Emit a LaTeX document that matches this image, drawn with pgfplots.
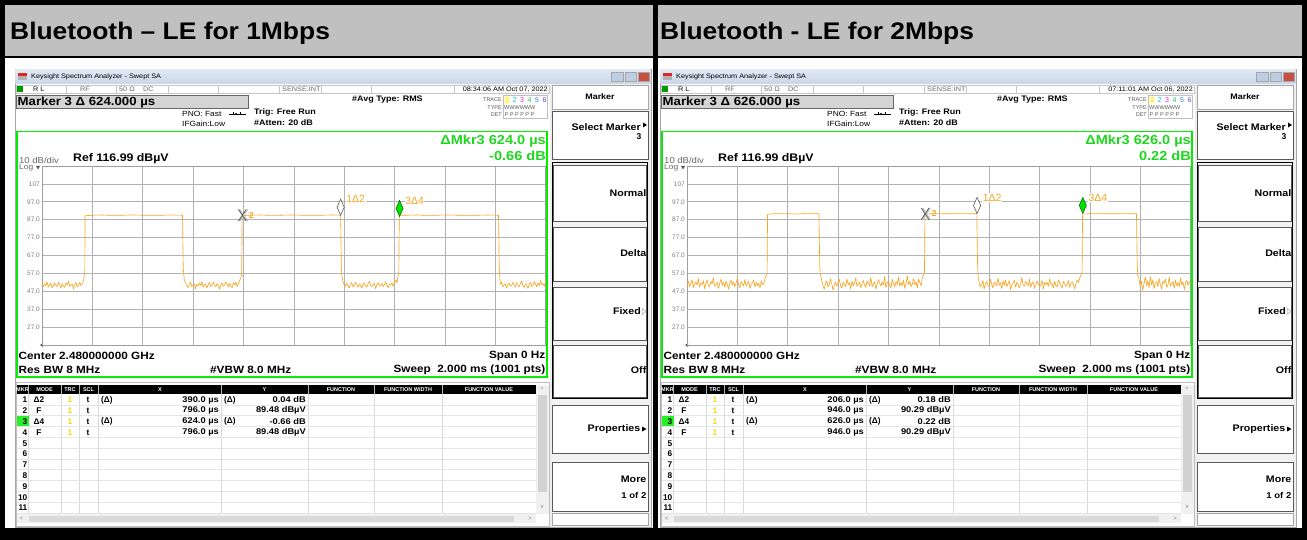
\documentclass[border=0pt]{standalone}
\usepackage{fontspec}
\setmainfont{Liberation Sans}
\usepackage{graphicx}
\usepackage{pgfplots}
\pgfplotsset{compat=1.18}
\usepackage{pgfplotstable}

\definecolor{hdr}{RGB}{192,192,192}
\definecolor{grn}{RGB}{0,240,0}
\definecolor{grntxt}{RGB}{30,215,30}
\definecolor{org}{RGB}{250,165,35}
\definecolor{grd}{RGB}{178,178,178}
\definecolor{tbartop}{RGB}{226,234,244}
\definecolor{tbarbot}{RGB}{200,214,232}
\definecolor{panelbg}{RGB}{238,238,238}
\definecolor{mkgray}{RGB}{212,212,212}
\definecolor{btn}{RGB}{190,205,225}
\definecolor{closered}{RGB}{200,80,65}
\definecolor{hl}{RGB}{40,240,40}
\definecolor{ylw}{RGB}{250,215,0}

\newcommand\fs[1]{\fontsize{#1}{#1}\selectfont}
\newcommand\hs[1]{\scalebox{1.12}[1]{#1}}

\pgfplotstableread{
x y
0 50.8
5 49.6
10 51.2
15 50.1
20 52.3
25 49.4
30 50.6
35 51.5
40 48.9
45 50.2
50 51.8
55 50.4
60 49.7
65 52.1
70 50.9
75 48.6
80 51.3
85 50.0
90 49.2
95 51.7
100 50.5
105 52.6
110 49.8
115 50.3
120 51.1
125 48.2
130 50.7
135 51.9
140 49.5
145 50.6
150 52.0
155 50.2
160 51.4
165 52.8
168 56.3
170 56.8
171 89.2
200 89.5
240 89.6
280 89.4
320 89.5
360 89.6
400 89.5
440 89.4
480 89.5
520 89.6
558 89.5
561 60.0
563 56.2
565 53.5
570 51.6
575 50.2
580 49.1
585 50.8
590 52.2
595 49.7
600 50.4
605 51.3
610 48.4
615 50.9
620 49.9
625 51.6
630 50.3
635 52.4
640 49.2
645 50.7
650 51.0
655 48.8
660 50.5
665 51.9
670 49.6
675 50.2
680 52.1
685 50.8
690 49.4
695 51.2
700 50.0
705 48.1
710 50.6
715 51.7
720 49.9
725 50.4
730 52.3
735 50.9
740 49.3
745 51.4
750 50.1
755 49.0
760 51.8
765 50.6
770 52.0
775 49.7
780 51.1
785 53.0
790 54.6
793 56.2
795 89.3
830 89.5
870 89.6
910 89.4
950 89.5
990 89.6
1030 89.5
1070 89.4
1110 89.5
1150 89.6
1186 89.5
1189 60.0
1191 55.5
1195 52.4
1200 50.6
1205 49.8
1210 51.5
1215 50.1
1220 48.9
1225 50.7
1230 51.9
1235 49.5
1240 50.3
1245 52.0
1250 50.8
1255 49.2
1260 51.1
1265 50.4
1270 48.7
1275 50.9
1280 51.6
1285 50.0
1290 49.4
1295 51.3
1300 52.5
1305 50.2
1310 49.7
1315 50.8
1320 51.4
1325 48.5
1330 50.6
1335 51.8
1340 49.9
1345 50.3
1350 51.2
1355 49.6
1360 50.7
1365 52.2
1370 50.4
1375 49.1
1380 51.0
1385 50.5
1390 51.7
1395 49.8
1400 52.1
1405 53.2
1410 51.8
1414 55.8
1417 56.5
1419 89.4
1450 89.5
1490 89.6
1530 89.4
1570 89.5
1610 89.6
1650 89.5
1690 89.4
1730 89.5
1770 89.6
1813 89.5
1816 60.0
1818 55.2
1820 50.9
1825 52.3
1830 49.6
1835 50.4
1840 51.2
1845 48.8
1850 50.7
1855 51.5
1860 49.9
1865 50.2
1870 52.0
1875 50.6
1880 49.3
1885 51.8
1890 50.1
1895 49.5
1900 51.4
1905 52.7
1910 50.0
1915 49.2
1920 51.0
1925 50.5
1930 48.6
1935 50.8
1940 51.9
1945 49.7
1950 50.3
1955 52.4
1960 50.9
1965 49.4
1970 51.6
1975 50.2
1980 53.1
1985 50.7
1990 51.3
1995 49.8
2000 52.6
}\traceA

\pgfplotstableread{
x y
0 50.2
5 52.8
10 49.6
15 51.4
20 53.5
25 48.9
30 51.0
35 52.2
40 50.5
45 54.1
50 49.3
55 51.7
60 50.8
65 52.9
70 48.4
75 51.2
80 53.3
85 50.1
90 49.7
95 52.5
100 51.1
105 54.6
110 49.9
115 50.6
120 52.0
125 48.7
130 51.5
135 53.8
140 50.3
145 51.9
150 49.2
155 52.7
160 50.9
165 48.1
170 51.6
175 53.1
180 50.4
185 52.3
190 49.5
195 51.8
200 54.0
205 50.7
210 49.0
215 52.4
220 51.3
225 50.0
230 53.6
235 49.8
240 51.1
245 52.6
250 48.6
255 50.9
260 51.7
265 53.4
270 49.4
275 52.1
280 50.2
285 51.5
290 48.9
295 52.9
300 50.6
305 51.3
310 54.2
315 56.1
318 57.0
320 90.1
360 90.4
400 90.3
440 90.2
480 90.4
524 90.3
527 62.0
529 56.5
535 53.2
540 50.4
545 48.1
550 51.6
555 52.8
560 49.3
565 50.9
570 54.0
575 51.2
580 47.6
585 50.5
590 52.3
595 49.8
600 51.7
605 53.6
610 50.2
615 48.8
620 52.1
625 51.0
630 49.5
635 53.9
640 50.7
645 51.8
650 48.4
655 52.6
660 50.1
665 51.4
670 54.4
675 49.7
680 50.8
685 52.0
690 48.9
695 51.3
700 53.1
705 50.6
710 49.2
715 52.8
720 51.5
725 50.0
730 54.7
735 49.6
740 51.2
745 52.4
750 48.3
755 50.9
760 53.5
765 51.7
770 49.9
775 52.2
780 50.4
785 55.3
790 49.1
795 51.6
800 52.9
805 50.3
810 48.7
815 53.8
820 51.1
825 49.4
830 52.5
835 50.8
840 54.9
845 49.8
850 51.9
855 50.2
860 53.3
865 48.6
870 51.4
875 55.6
880 50.7
885 52.7
890 49.5
895 51.0
900 54.1
905 50.5
910 52.3
915 49.0
920 53.7
925 51.8
930 50.1
935 54.8
940 56.4
943 57.5
945 90.2
990 90.4
1040 90.3
1090 90.4
1151 90.3
1154 62.0
1156 55.8
1160 51.9
1165 49.4
1170 50.8
1175 53.0
1180 48.2
1185 51.5
1190 52.4
1195 50.1
1200 49.6
1205 53.7
1210 50.9
1215 48.8
1220 52.2
1225 51.3
1230 49.9
1235 54.3
1240 50.4
1245 51.8
1250 48.5
1255 52.7
1260 50.2
1265 53.4
1270 49.7
1275 51.1
1280 52.9
1285 47.9
1290 50.6
1295 51.7
1300 53.2
1305 49.3
1310 52.0
1315 50.7
1320 48.9
1325 51.4
1330 54.6
1335 50.3
1340 49.8
1345 52.5
1350 51.0
1355 50.1
1360 53.8
1365 49.2
1370 51.6
1375 52.3
1380 48.6
1385 50.9
1390 52.8
1395 51.2
1400 49.5
1405 50.4
1410 53.1
1415 48.3
1420 51.9
1425 50.6
1430 52.1
1435 49.7
1440 54.0
1445 50.8
1450 51.3
1455 48.8
1460 52.6
1465 50.0
1470 49.4
1475 53.5
1480 51.7
1485 50.2
1490 48.7
1495 52.4
1500 51.1
1505 49.9
1510 50.5
1515 53.0
1520 49.1
1525 51.8
1530 52.2
1535 50.3
1540 48.4
1545 51.5
1550 53.3
1555 52.0
1560 54.5
1565 56.3
1569 57.5
1571 90.2
1620 90.4
1680 90.3
1740 90.4
1785 90.3
1788 62.0
1790 56.0
1795 53.9
1800 49.8
1805 52.6
1810 47.4
1815 51.3
1820 54.8
1825 50.2
1830 52.9
1835 49.1
1840 55.2
1845 50.6
1850 53.4
1855 48.5
1860 51.7
1865 52.3
1870 49.6
1875 54.1
1880 50.9
1885 48.2
1890 52.8
1895 51.5
1900 53.7
1905 49.3
1910 50.4
1915 55.0
1920 49.9
1925 51.2
1930 52.5
1935 48.7
1940 53.3
1945 50.1
1950 51.9
1955 49.5
1960 54.4
1965 50.8
1970 52.1
1975 47.8
1980 51.6
1985 53.0
1990 50.3
1995 52.4
2000 51.1
}\traceB

% one analyzer screenshot (static parts), units = pixels
\newcommand\panel[8]{%
\begin{scope}[x=1pt,y=-1pt,xshift=#1pt]
% window
\fill[panelbg] (15,69) rectangle (651,527);
\draw[gray!70,line width=0.5pt] (15,69) rectangle (651,527);
\shade[top color=tbartop,bottom color=tbarbot] (15.3,69.3) rectangle (650.7,84);
\fill[red!70!gray] (18,73) rectangle (27,76.5);
\fill[gray!60] (18,76.5) rectangle (27,80);
\node[anchor=west,font=\fs{6.5},inner sep=0pt] at (31,77) {\hs{Keysight Spectrum Analyzer - Swept SA}};
\filldraw[fill=btn,draw=gray!70] (611,72) rectangle (623,81);
\filldraw[fill=btn,draw=gray!70] (625,72) rectangle (636,81);
\filldraw[fill=closered,draw=gray!70] (638,72) rectangle (649,81);
% instrument area
\fill[white] (16,84.5) rectangle (550,527);
% status row
\draw[gray!45,line width=0.4pt] (16,85) rectangle (549,93.5);
\foreach \c in {66,116,168,218,279,321,371,454} {\draw[gray!45,line width=0.4pt] (\c,85) -- (\c,93.5);}
\fill[green!60!black] (17,86) rectangle (23,92.5);
\node[anchor=west,font=\fs{6.5},inner sep=0pt] at (33,89.3) {\hs{R L}};
\node[anchor=west,font=\fs{6.5},inner sep=0pt,text=gray!80!black] at (80,89.3) {\hs{RF}};
\node[anchor=west,font=\fs{6.5},inner sep=0pt,text=gray!80!black] at (119,89.3) {\hs{50 Ω}};
\node[anchor=west,font=\fs{6.5},inner sep=0pt,text=gray!80!black] at (143,89.3) {\hs{DC}};
\node[anchor=west,font=\fs{6.5},inner sep=0pt,text=gray!80!black] at (282,89.3) {\hs{SENSE:INT}};
\node[anchor=east,font=\fs{6.5},inner sep=0pt] at (548,89.3) {\hs{#2}};
% marker box
\filldraw[fill=mkgray,draw=gray!80!black,line width=0.5pt] (16,95.5) rectangle (248,108.5);
\node[anchor=west,font=\fs{11.8}\bfseries,inner sep=0pt] at (17.5,102) {\hs{Marker 3 Δ #3.000 µs}};
\node[anchor=west,font=\fs{8}\bfseries,inner sep=0pt] at (352,100) {\hs{\#Avg Type: RMS}};
\node[anchor=west,font=\fs{7.5},inner sep=0pt] at (182,114) {\hs{PNO: Fast}};
\draw[line width=0.5pt] (229,114) -- (246,114);
\fill (236,114) circle (1.2);
\draw[line width=0.5pt] (233,112.5) -- (233,115.5) (240,112.5) -- (240,115.5);
\node[anchor=west,font=\fs{7.5},inner sep=0pt] at (182,124) {\hs{IFGain:Low}};
\node[anchor=west,font=\fs{8}\bfseries,inner sep=0pt] at (254,112) {\hs{Trig: Free Run}};
\node[anchor=west,font=\fs{8}\bfseries,inner sep=0pt] at (254,122.5) {\hs{\#Atten: 20 dB}};
% trace table
\node[anchor=east,font=\fs{5.5},inner sep=0pt,text=gray!70!black] at (502,100) {TRACE};
\node[anchor=east,font=\fs{5.5},inner sep=0pt,text=gray!70!black] at (502,107.5) {TYPE};
\node[anchor=east,font=\fs{5.5},inner sep=0pt,text=gray!70!black] at (502,115) {DET};
\draw[gray!50,line width=0.4pt] (503.5,95.5) rectangle (547.5,118.5);
\fill[yellow!25] (504,96) rectangle (510,104);
\node[font=\fs{7},inner sep=0pt,text=ylw] at (507,100) {1};
\node[font=\fs{7},inner sep=0pt,text={rgb,255:red,0;green,190;blue,225}] at (514.5,100) {2};
\node[font=\fs{7},inner sep=0pt,text={rgb,255:red,230;green,40;blue,200}] at (522,100) {3};
\node[font=\fs{7},inner sep=0pt,text={rgb,255:red,40;green,190;blue,90}] at (529.5,100) {4};
\node[font=\fs{7},inner sep=0pt,text={rgb,255:red,40;green,120;blue,230}] at (537,100) {5};
\node[font=\fs{7},inner sep=0pt,text={rgb,255:red,120;green,60;blue,230}] at (544.5,100) {6};
\node[anchor=west,font=\fs{5.5},inner sep=0pt,text=gray!70!black] at (504,107.5) {WWWWWW};
\node[anchor=west,font=\fs{5.5},inner sep=0pt,text=gray!70!black] at (504.5,115) {P P P P P P};
% graph frame
\draw[grn,line width=1.8pt] (17,131.5) rectangle (547,377);
\node[anchor=east,font=\fs{13}\bfseries,inner sep=0pt,text=grntxt] at (546,141) {\hs{ΔMkr3 #3.0 µs}};
\node[anchor=east,font=\fs{13}\bfseries,inner sep=0pt,text=grntxt] at (546,156) {\hs{#4 dB}};
\node[anchor=west,font=\fs{8.5},inner sep=0pt,text=gray!80!black] at (19,160) {\hs{10 dB/div}};
\node[anchor=west,font=\fs{11}\bfseries,inner sep=0pt] at (73,159) {\hs{Ref 116.99 dBµV}};
\node[anchor=west,font=\fs{7.5},inner sep=0pt,text=gray!80!black] at (19,168) {\hs{Log}};
\fill[gray!70!black] (36,166) -- (40,166) -- (38,169.5) -- cycle;
\fill[gray!70!black] (40,345) -- (43,343) -- (43,347) -- cycle;
\node[anchor=west,font=\fs{10.5}\bfseries,inner sep=0pt] at (18.5,355.5) {\hs{Center 2.480000000 GHz}};
\node[anchor=east,font=\fs{10.5}\bfseries,inner sep=0pt] at (545.5,355.5) {\hs{Span 0 Hz}};
\node[anchor=west,font=\fs{10.5}\bfseries,inner sep=0pt] at (18.5,369.5) {\hs{Res BW 8 MHz}};
\node[anchor=west,font=\fs{10.5}\bfseries,inner sep=0pt] at (210,369.5) {\hs{\#VBW 8.0 MHz}};
\node[anchor=east,font=\fs{10.5}\bfseries,inner sep=0pt] at (545.5,369.5) {\hs{Sweep\ \ 2.000 ms (1001 pts)}};
% marker table
\draw[gray!50,line width=0.5pt] (16,382) rectangle (549,526);
\fill[black] (17,385) rectangle (536,394);
\foreach \c in {28,61,79,98,221,308,374,442} {\draw[gray!30,line width=0.4pt] (\c,394) -- (\c,513);
  \draw[gray!60,line width=0.4pt] (\c,385) -- (\c,394);}
\foreach \i in {1,...,11} {\draw[gray!20,line width=0.4pt] (17,{394+\i*10.8}) -- (536,{394+\i*10.8});}
\fill[hl] (17,416) rectangle (28.5,426.2);
\foreach \l/\p in {MKR/22.5,MODE/44.5,TRC/70,SCL/88.5,X/160,Y/264.5,FUNCTION/341,FUNCTION WIDTH/408,FUNCTION VALUE/489} {%
  \node[font=\fs{5.5}\bfseries,text=white,inner sep=0pt] at (\p,389.7) {\l};}
\foreach \i in {1,...,11} {\node[anchor=east,font=\fs{8.3}\bfseries,inner sep=0pt] at (27.5,{400+(\i-1)*10.8}) {\i};}
\foreach \i/\m in {1/Δ2,2/F,3/Δ4,4/F} {%
  \node[font=\fs{8.3}\bfseries,inner sep=0pt] at (39,{400+(\i-1)*10.8}) {\m};
  \node[font=\fs{8.3}\bfseries,inner sep=0pt,text=ylw] at (70,{400+(\i-1)*10.8}) {1};
  \node[font=\fs{8.3}\bfseries,inner sep=0pt] at (88,{400+(\i-1)*10.8}) {t};}
\node[anchor=west,font=\fs{8.3}\bfseries,inner sep=0pt] at (101,400) {(Δ)};
\node[anchor=west,font=\fs{8.3}\bfseries,inner sep=0pt] at (101,421.6) {(Δ)};
\node[anchor=west,font=\fs{8.3}\bfseries,inner sep=0pt] at (224,400) {(Δ)};
\node[anchor=west,font=\fs{8.3}\bfseries,inner sep=0pt] at (224,421.6) {(Δ)};
\node[anchor=east,font=\fs{8.3}\bfseries,inner sep=0pt] at (219,400) {\hs{#5 µs}};
\node[anchor=east,font=\fs{8.3}\bfseries,inner sep=0pt] at (219,410.8) {\hs{#7 µs}};
\node[anchor=east,font=\fs{8.3}\bfseries,inner sep=0pt] at (219,421.6) {\hs{#3.0 µs}};
\node[anchor=east,font=\fs{8.3}\bfseries,inner sep=0pt] at (219,432.4) {\hs{#7 µs}};
\node[anchor=east,font=\fs{8.3}\bfseries,inner sep=0pt] at (306,400) {\hs{#6 dB}};
\node[anchor=east,font=\fs{8.3}\bfseries,inner sep=0pt] at (306,410.8) {\hs{#8 dBµV}};
\node[anchor=east,font=\fs{8.3}\bfseries,inner sep=0pt] at (306,421.6) {\hs{#4 dB}};
\node[anchor=east,font=\fs{8.3}\bfseries,inner sep=0pt] at (306,432.4) {\hs{#8 dBµV}};
% scroll bars
\fill[gray!12] (536,385) rectangle (548.5,514);
\fill[gray!35] (538,395) rectangle (546.5,492);
\node[font=\fs{6},inner sep=0pt,text=gray] at (542,389) {\^{}};
\node[font=\fs{6},inner sep=0pt,text=gray] at (542,507) {v};
\fill[gray!12] (17,514) rectangle (536,523);
\fill[gray!30] (29,515.5) rectangle (514,521.5);
\node[font=\fs{6},inner sep=0pt,text=gray] at (21.5,518.5) {<};
\node[font=\fs{6},inner sep=0pt,text=gray] at (530,518.5) {>};
% soft-key menu
\fill[gray!10] (552,85) rectangle (648,525);
\filldraw[fill=white,draw=gray!70,line width=0.5pt] (552,85.5) rectangle (648,109);
\node[font=\fs{8}\bfseries,inner sep=0pt] at (600,97) {\hs{Marker}};
\filldraw[fill=white,draw=gray!70!black,line width=0.6pt] (552,111) rectangle (648,159);
\node[anchor=east,font=\fs{9.5}\bfseries,inner sep=0pt] at (641,127) {\hs{Select Marker}};
\fill (643,122.5) -- (647,125) -- (643,127.5) -- cycle;
\node[anchor=east,font=\fs{8.5}\bfseries,inner sep=0pt] at (641.5,137) {3};
\foreach \a/\b in {165/221,227/281,287/340,345/397} {\filldraw[fill=white,draw=gray!70!black,line width=0.6pt] (553.5,\a) rectangle (646.5,\b);}
\draw[black,line width=1.4pt] (552.5,162.5) rectangle (647.5,398.5);
\node[anchor=east,font=\fs{9.5}\bfseries,inner sep=0pt] at (646.5,193.5) {\hs{Normal}};
\node[anchor=east,font=\fs{9.5}\bfseries,inner sep=0pt] at (646.5,253.5) {\hs{Delta}};
\node[anchor=east,font=\fs{9.5}\bfseries,inner sep=0pt] at (641,311.5) {\hs{Fixed}};
\draw[gray!70,line width=0.5pt] (642,308.5) -- (646,311.5) -- (642,314.5) -- cycle;
\node[anchor=east,font=\fs{9.5}\bfseries,inner sep=0pt] at (646.5,370.5) {\hs{Off}};
\filldraw[fill=white,draw=gray!70!black,line width=0.6pt] (552,405) rectangle (648,453);
\node[anchor=east,font=\fs{9.5}\bfseries,inner sep=0pt] at (640.5,429) {\hs{Properties}};
\fill (642,426.5) -- (646.5,429) -- (642,431.5) -- cycle;
\filldraw[fill=white,draw=gray!70!black,line width=0.6pt] (552,462.5) rectangle (648,511);
\node[anchor=east,font=\fs{9.5}\bfseries,inner sep=0pt] at (646.5,479.5) {\hs{More}};
\node[anchor=east,font=\fs{8.5}\bfseries,inner sep=0pt] at (646.5,495) {\hs{1 of 2}};
\filldraw[fill=white,draw=gray!70,line width=0.5pt] (552,513) rectangle (648,525);
\end{scope}}

\pgfplotsset{sa/.style={anchor=north west, scale only axis, width=503.6pt, height=179pt,
  xmin=0, xmax=2000, ymin=16.99, ymax=116.99,
  xtick={0,200,400,600,800,1000,1200,1400,1600,1800,2000}, xticklabels={},
  ytick={26.99,36.99,46.99,56.99,66.99,76.99,86.99,96.99,106.99},
  yticklabels={27.0,37.0,47.0,57.0,67.0,77.0,87.0,97.0,107},
  grid=major, major grid style={draw=grd,line width=0.6pt},
  major tick length=0pt,
  axis line style={draw=gray!75,line width=0.6pt},
  yticklabel style={font=\fs{6.5},text=gray,inner sep=0pt,xshift=-2pt},
  clip=false}}

\begin{document}
\begin{tikzpicture}
\path[use as bounding box] (0,0) rectangle (1307pt,-540pt);
\begin{scope}[x=1pt,y=-1pt]
\fill[white] (0,0) rectangle (1307,540);
\fill[hdr] (5,5) rectangle (1302,56);
\fill[black] (0,0) rectangle (1307,5);
\fill[black] (0,0) rectangle (5,540);
\fill[black] (1302,0) rectangle (1307,540);
\fill[black] (0,528) rectangle (1307,540);
\fill[black] (5,56) rectangle (1302,58);
\fill[black] (652.5,0) rectangle (657.5,540);
\node[anchor=west,font=\fs{24}\bfseries,inner sep=0pt] at (10,33) {\scalebox{1.1}[1]{Bluetooth – LE for 1Mbps}};
\node[anchor=west,font=\fs{24}\bfseries,inner sep=0pt] at (660,33) {\scalebox{1.1}[1]{Bluetooth - LE for 2Mbps}};
\end{scope}
\panel{0}{08:34:06 AM Oct 07, 2022}{624}{-0.66}{390.0}{0.04}{796.0}{89.48}
\panel{645}{07:11:01 AM Oct 06, 2022}{626}{0.22}{206.0}{0.18}{946.0}{90.29}

\begin{axis}[sa, at={(42pt,-166pt)}]
\addplot[org, line width=0.65pt, line join=round] table[x=x,y=y] {\traceA};
\addplot[only marks, mark=x, mark size=5.5pt, mark options={yscale=1.5, draw=gray!70!black, line width=0.9pt}] coordinates {(796,89.48)};
\addplot[only marks, mark=x, mark size=5.5pt, mark options={yscale=1.5, xshift=1.5pt, draw=gray!55, line width=0.7pt}] coordinates {(796,89.48)};
\addplot[only marks, mark=diamond*, mark size=8pt, mark options={xscale=0.6, yshift=8pt, fill=white, draw=gray!70!black, line width=0.6pt}] coordinates {(1186,89.52)};
\addplot[only marks, mark=diamond*, mark size=8pt, mark options={xscale=0.6, yshift=8pt, fill={rgb,255:red,0;green,225;blue,0}, draw=green!40!black, line width=0.5pt}] coordinates {(1420,88.82)};
\node[anchor=west, text=org, font=\fs{8.5}\bfseries, inner sep=0pt] at (axis cs:796,89.48) [xshift=6.5pt] {2};
\node[anchor=west, text=org, fill=white, font=\fs{10.5}, inner sep=0.5pt] at (axis cs:1186,89.52) [xshift=5pt, yshift=16pt] {1Δ2};
\node[anchor=west, text=org, fill=white, font=\fs{10.5}, inner sep=0.5pt] at (axis cs:1420,88.82) [xshift=5pt, yshift=16pt] {3Δ4};
\end{axis}

\begin{axis}[sa, at={(687pt,-166pt)}]
\addplot[org, line width=0.65pt, line join=round] table[x=x,y=y] {\traceB};
\addplot[only marks, mark=x, mark size=5.5pt, mark options={yscale=1.5, draw=gray!70!black, line width=0.9pt}] coordinates {(946,90.29)};
\addplot[only marks, mark=x, mark size=5.5pt, mark options={yscale=1.5, xshift=1.5pt, draw=gray!55, line width=0.7pt}] coordinates {(946,90.29)};
\addplot[only marks, mark=diamond*, mark size=8pt, mark options={xscale=0.6, yshift=8pt, fill=white, draw=gray!70!black, line width=0.6pt}] coordinates {(1152,90.47)};
\addplot[only marks, mark=diamond*, mark size=8pt, mark options={xscale=0.6, yshift=8pt, fill={rgb,255:red,0;green,225;blue,0}, draw=green!40!black, line width=0.5pt}] coordinates {(1572,90.51)};
\node[anchor=west, text=org, font=\fs{8.5}\bfseries, inner sep=0pt] at (axis cs:946,90.29) [xshift=6.5pt] {2};
\node[anchor=west, text=org, fill=white, font=\fs{10.5}, inner sep=0.5pt] at (axis cs:1152,90.47) [xshift=5pt, yshift=16pt] {1Δ2};
\node[anchor=west, text=org, fill=white, font=\fs{10.5}, inner sep=0.5pt] at (axis cs:1572,90.51) [xshift=5pt, yshift=16pt] {3Δ4};
\end{axis}
\end{tikzpicture}
\end{document}
